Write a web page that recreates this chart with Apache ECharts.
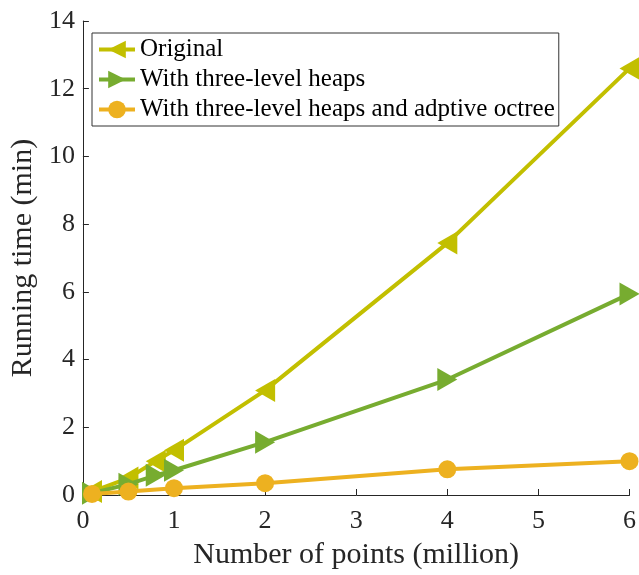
<!DOCTYPE html>
<html><head><meta charset="utf-8">
<script src="https://cdn.jsdelivr.net/npm/echarts@6/dist/echarts.min.js"></script>
<style>html,body{margin:0;padding:0;background:#fff}#c{width:639px;height:575px}</style>
</head><body><div id="c"></div>
<script>
const origX = [0.1, 0.5, 0.8, 1, 2, 4, 6];
const origY = [0.1, 0.5, 1.0, 1.32, 3.09, 7.44, 12.6];
const heapX = [0.1, 0.5, 0.8, 1, 2, 4, 6];
const heapY = [0.05, 0.32, 0.58, 0.73, 1.56, 3.41, 5.94];
const octX = [0.1, 0.5, 1, 2, 4, 6];
const octY = [0.03, 0.1, 0.2, 0.35, 0.76, 1.0];
const names = ['Original', 'With three-level heaps', 'With three-level heaps and adptive octree'];
const xTicks = [0, 1, 2, 3, 4, 5, 6];
const yTicks = [0, 2, 4, 6, 8, 10, 12, 14];

const font = 'Liberation Serif, Times New Roman, serif';
const axisColor = '#262626';
const pairs = (xs, ys) => xs.map((x, i) => [x, ys[i]]);

const chart = echarts.init(document.getElementById('c'), null, {renderer: 'canvas'});
chart.setOption({
  animation: false,
  grid: {left: 82, right: 8.5, top: 21, bottom: 78, containLabel: false},
  legend: {
    left: 92, top: 33, orient: 'vertical',
    backgroundColor: '#fff',
    borderColor: '#333', borderWidth: 1,
    padding: [4, 4, 4, 5],
    itemWidth: 36, itemHeight: 22, itemGap: 5,
    lineStyle: {width: 4},
    textStyle: {fontFamily: font, fontSize: 25, color: '#000'},
    data: names
  },
  xAxis: {
    type: 'value', min: xTicks[0], max: xTicks[xTicks.length - 1], interval: 1,
    name: 'Number of points (million)', nameLocation: 'middle', nameGap: 45,
    nameTextStyle: {fontFamily: font, fontSize: 30, color: axisColor},
    axisLine: {show: true, lineStyle: {color: axisColor, width: 1}},
    axisTick: {show: true, inside: true, length: 6, lineStyle: {color: axisColor}},
    axisLabel: {fontFamily: font, fontSize: 26, color: axisColor, margin: 13},
    splitLine: {show: false}
  },
  yAxis: {
    type: 'value', min: yTicks[0], max: yTicks[yTicks.length - 1], interval: 2,
    name: 'Running time (min)', nameLocation: 'middle', nameGap: 39,
    nameTextStyle: {fontFamily: font, fontSize: 30, color: axisColor},
    axisLine: {show: true, lineStyle: {color: axisColor, width: 1}},
    axisTick: {show: true, inside: true, length: 6, lineStyle: {color: axisColor}},
    axisLabel: {fontFamily: font, fontSize: 26, color: axisColor, margin: 8},
    splitLine: {show: false}
  },
  series: [
    {
      name: names[0], type: 'line', data: pairs(origX, origY),
      symbol: 'triangle', symbolSize: [23, 20], symbolRotate: 90,
      lineStyle: {width: 4, color: '#C2BF00'}, itemStyle: {color: '#C2BF00'},
      clip: false, z: 3
    },
    {
      name: names[1], type: 'line', data: pairs(heapX, heapY),
      symbol: 'triangle', symbolSize: [23, 20], symbolRotate: -90,
      lineStyle: {width: 4, color: '#77AC30'}, itemStyle: {color: '#77AC30'},
      clip: false, z: 4
    },
    {
      name: names[2], type: 'line', data: pairs(octX, octY),
      symbol: 'circle', symbolSize: 18,
      lineStyle: {width: 4, color: '#EDB120'}, itemStyle: {color: '#EDB120'},
      clip: false, z: 5
    }
  ]
});
</script></body></html>
